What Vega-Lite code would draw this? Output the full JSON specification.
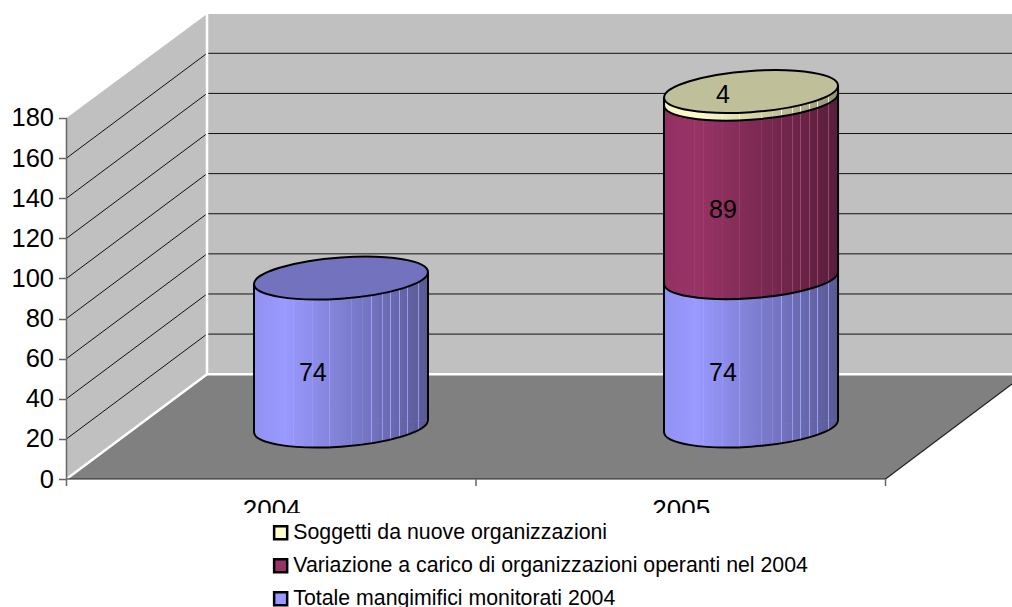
{
"$schema":"https://vega.github.io/schema/vega-lite/v6.json",
"width":1012,"height":607,"padding":0,"autosize":{"type":"none"},
"background":"white",
"config":{"view":{"stroke":null}},
"datasets":{
"planes":[
{"plane":"side","x":0,"y":0,"y2":180},{"plane":"side","x":0.3431,"y":52.25,"y2":231.85},
{"plane":"back","x":0.3431,"y":52.25,"y2":231.85},{"plane":"back","x":2.3089,"y":52.25,"y2":231.85},
{"plane":"floor","x":0,"y":0,"y2":0},{"plane":"floor","x":0.3431,"y":0,"y2":52.25},{"plane":"floor","x":2,"y":0,"y2":52.25},{"plane":"floor","x":2.3089,"y":47.4,"y2":52.25}
],
"frame":[
{"kind":"grid","x":0,"x2":0.3431,"y":20,"y2":72.25},{"kind":"grid","x":0,"x2":0.3431,"y":40,"y2":92.25},{"kind":"grid","x":0,"x2":0.3431,"y":60,"y2":112.25},{"kind":"grid","x":0,"x2":0.3431,"y":80,"y2":132.25},{"kind":"grid","x":0,"x2":0.3431,"y":100,"y2":152.25},{"kind":"grid","x":0,"x2":0.3431,"y":120,"y2":172.25},{"kind":"grid","x":0,"x2":0.3431,"y":140,"y2":192.25},{"kind":"grid","x":0,"x2":0.3431,"y":160,"y2":212.25},
{"kind":"grid","x":0.3431,"x2":2.3089,"y":72.25,"y2":72.25},{"kind":"grid","x":0.3431,"x2":2.3089,"y":92.25,"y2":92.25},{"kind":"grid","x":0.3431,"x2":2.3089,"y":112.25,"y2":112.25},{"kind":"grid","x":0.3431,"x2":2.3089,"y":132.25,"y2":132.25},{"kind":"grid","x":0.3431,"x2":2.3089,"y":152.25,"y2":152.25},{"kind":"grid","x":0.3431,"x2":2.3089,"y":172.25,"y2":172.25},{"kind":"grid","x":0.3431,"x2":2.3089,"y":192.25,"y2":192.25},{"kind":"grid","x":0.3431,"x2":2.3089,"y":212.25,"y2":212.25},
{"kind":"edge","x":0,"x2":0.3431,"y":0,"y2":52.25},{"kind":"edge","x":0.3431,"x2":0.3431,"y":52.25,"y2":231.85},{"kind":"edge","x":0.3431,"x2":2.3089,"y":52.25,"y2":52.25},
{"kind":"floorline","x":0,"x2":2,"y":0,"y2":0},{"kind":"floorline","x":2,"x2":2.3089,"y":0,"y2":47.4},
{"kind":"axis","x":0,"x2":0,"y":-3.5,"y2":180},{"kind":"axis","x":1,"x2":1,"y":-3.5,"y2":0},{"kind":"axis","x":2,"x2":2,"y":-3.5,"y2":0},
{"kind":"cyl","x":0.4578,"x2":0.4578,"y":23.4,"y2":97.4},{"kind":"cyl","x":0.8828,"x2":0.8828,"y":29.4,"y2":103.4},
{"kind":"cyl","x":1.4591,"x2":1.4591,"y":23.4,"y2":190.4},{"kind":"cyl","x":1.8841,"x2":1.8841,"y":29.4,"y2":196.4}
],
"bodies":[
{"year":"2004","series":"Totale mangimifici monitorati 2004","x":0.4578,"y":23.4,"y2":97.4},{"year":"2004","series":"Totale mangimifici monitorati 2004","x":0.8828,"y":29.4,"y2":103.4},
{"year":"2005","series":"Totale mangimifici monitorati 2004","x":1.4591,"y":23.4,"y2":97.4},{"year":"2005","series":"Totale mangimifici monitorati 2004","x":1.8841,"y":29.4,"y2":103.4},
{"year":"2005","series":"Variazione a carico di organizzazioni operanti nel 2004","x":1.4591,"y":97.4,"y2":186.4},{"year":"2005","series":"Variazione a carico di organizzazioni operanti nel 2004","x":1.8841,"y":103.4,"y2":192.4},
{"year":"2005","series":"Soggetti da nuove organizzazioni","x":1.4591,"y":186.4,"y2":190.4},{"year":"2005","series":"Soggetti da nuove organizzazioni","x":1.8841,"y":192.4,"y2":196.4}
],
"wholes":[
{"year":"2004","x":0.4578,"y":23.4,"y2":97.4},{"year":"2004","x":0.8828,"y":29.4,"y2":103.4},
{"year":"2005","x":1.4591,"y":23.4,"y2":190.4},{"year":"2005","x":1.8841,"y":29.4,"y2":196.4}
],
"rims":[
{"series":"Totale mangimifici monitorati 2004","x":0.6703,"y":26.4},{"series":"Totale mangimifici monitorati 2004","x":1.6716,"y":26.4},
{"series":"Variazione a carico di organizzazioni operanti nel 2004","x":1.6716,"y":100.4},
{"series":"Soggetti da nuove organizzazioni","x":1.6716,"y":189.4}
],
"bases":[{"x":0.6703,"y":26.4},{"x":1.6716,"y":26.4}],
"tops":[
{"series":"Totale mangimifici monitorati 2004","x":0.6703,"y":100.2},
{"series":"Soggetti da nuove organizzazioni","x":1.6716,"y":193.2}
],
"labels":[
{"value":74,"x":0.6015,"y":53.1},{"value":74,"x":1.603,"y":53.1},{"value":89,"x":1.603,"y":134.2},{"value":4,"x":1.603,"y":191.6}
],
"box":[{"x":0.4,"x2":1.8,"y":-16.95,"y2":-63.82}]
},
"encoding":{
"x":{"field":"x","type":"quantitative","scale":{"domain":[-0.1624,2.3089],"nice":false,"zero":false},"title":null,
 "axis":{"orient":"bottom","offset":-128,"values":[0.5,1.5],"labelExpr":"datum.value<1?'2004':'2005'","ticks":false,"domain":false,"grid":false,"labelFont":"Liberation Sans","labelFontSize":26,"labelColor":"black","labelPadding":17,"title":null,"zindex":0}},
"y":{"field":"y","type":"quantitative","scale":{"domain":[-63.82,238.83],"nice":false,"zero":false},"title":null,
 "axis":{"orient":"left","offset":-66.5,"values":[0,20,40,60,80,100,120,140,160,180],"domain":false,"grid":false,"tickSize":8,"tickColor":"#666666","tickWidth":1.5,"labelFont":"Liberation Sans","labelFontSize":25.5,"labelColor":"black","labelPadding":5,"title":null,"zindex":0}}
},
"layer":[
{"data":{"name":"planes"},"transform":[{"filter":"datum.plane==='side'"}],"mark":{"type":"area","color":"#C0C0C0","orient":"vertical"},"encoding":{"y2":{"field":"y2"}}},
{"data":{"name":"planes"},"transform":[{"filter":"datum.plane==='back'"}],"mark":{"type":"area","color":"#C0C0C0","orient":"vertical"},"encoding":{"y2":{"field":"y2"}}},
{"data":{"name":"planes"},"transform":[{"filter":"datum.plane==='floor'"}],"mark":{"type":"area","color":"#808080","orient":"vertical"},"encoding":{"y2":{"field":"y2"}}},
{"data":{"name":"frame"},"transform":[{"filter":"datum.kind==='grid'"}],"mark":{"type":"rule","color":"#111111","strokeWidth":1},"encoding":{"x2":{"field":"x2"},"y2":{"field":"y2"}}},
{"data":{"name":"frame"},"transform":[{"filter":"datum.kind==='edge'"}],"mark":{"type":"rule","color":"white","strokeWidth":2.5},"encoding":{"x2":{"field":"x2"},"y2":{"field":"y2"}}},
{"data":{"name":"frame"},"transform":[{"filter":"datum.kind==='floorline'"}],"mark":{"type":"rule","color":"#222222","strokeWidth":1.2},"encoding":{"x2":{"field":"x2"},"y2":{"field":"y2"}}},
{"data":{"name":"frame"},"transform":[{"filter":"datum.kind==='axis'"}],"mark":{"type":"rule","color":"#666666","strokeWidth":1.5},"encoding":{"x2":{"field":"x2"},"y2":{"field":"y2"}}},
{"data":{"name":"bodies"},"mark":{"type":"area","orient":"vertical"},"encoding":{"y2":{"field":"y2"},"detail":{"field":"year"},
 "color":{"field":"series","type":"nominal","scale":{"domain":["Soggetti da nuove organizzazioni","Variazione a carico di organizzazioni operanti nel 2004","Totale mangimifici monitorati 2004"],"range":["#FFFFCC","#993366","#9999FF"]},
 "legend":{"orient":"none","legendX":260,"legendY":512,"title":null,"padding":10,"symbolType":"square","symbolSize":170,"symbolStrokeColor":"black","symbolStrokeWidth":2.5,"symbolOpacity":1,"labelFont":"Liberation Sans","labelFontSize":21.3,"labelColor":"black","rowPadding":9,"labelOffset":2,"labelLimit":600}}}},
{"data":{"name":"rims"},"mark":{"type":"point","filled":true,"opacity":1,"strokeWidth":0,"size":30276,"shape":"M 1 -0.069 C 1 0.0619 0.5523 0.1989 0 0.237 C -0.5523 0.2751 -1 0.1999 -1 0.069 C -1 -0.0619 -0.5523 -0.1989 0 -0.237 C 0.5523 -0.2751 1 -0.1999 1 -0.069 Z"},
 "encoding":{"color":{"field":"series","type":"nominal","scale":{"domain":["Soggetti da nuove organizzazioni","Variazione a carico di organizzazioni operanti nel 2004","Totale mangimifici monitorati 2004"],"range":["#FFFFCC","#993366","#9999FF"]}}}},
{"data":{"name":"wholes"},"mark":{"type":"area","orient":"vertical","fill":{"gradient":"linear","x1":0,"y1":0,"x2":1,"y2":0,"stops":[
{"offset":0,"color":"rgba(0,0,0,0.05)"},
{"offset":0.06,"color":"rgba(0,0,0,0.033)"},{"offset":0.063,"color":"rgba(255,255,255,0.06)"},{"offset":0.066,"color":"rgba(0,0,0,0.032)"},
{"offset":0.089,"color":"rgba(0,0,0,0.025)"},{"offset":0.092,"color":"rgba(255,255,255,0.06)"},{"offset":0.095,"color":"rgba(0,0,0,0.024)"},
{"offset":0.172,"color":"rgba(0,0,0,0.002)"},{"offset":0.175,"color":"rgba(255,255,255,0.06)"},{"offset":0.178,"color":"rgba(0,0,0,0.001)"},
{"offset":0.18,"color":"rgba(0,0,0,0)"},
{"offset":0.224,"color":"rgba(0,0,0,0.023)"},{"offset":0.227,"color":"rgba(255,255,255,0.06)"},{"offset":0.23,"color":"rgba(0,0,0,0.026)"},
{"offset":0.278,"color":"rgba(0,0,0,0.05)"},{"offset":0.281,"color":"rgba(255,255,255,0.06)"},{"offset":0.284,"color":"rgba(0,0,0,0.053)"},
{"offset":0.335,"color":"rgba(0,0,0,0.079)"},{"offset":0.338,"color":"rgba(255,255,255,0.06)"},{"offset":0.341,"color":"rgba(0,0,0,0.082)"},
{"offset":0.432,"color":"rgba(0,0,0,0.129)"},{"offset":0.435,"color":"rgba(255,255,255,0.06)"},{"offset":0.438,"color":"rgba(0,0,0,0.132)"},
{"offset":0.555,"color":"rgba(0,0,0,0.192)"},{"offset":0.558,"color":"rgba(255,255,255,0.06)"},{"offset":0.561,"color":"rgba(0,0,0,0.195)"},
{"offset":0.618,"color":"rgba(0,0,0,0.224)"},{"offset":0.621,"color":"rgba(255,255,255,0.06)"},{"offset":0.624,"color":"rgba(0,0,0,0.227)"},
{"offset":0.672,"color":"rgba(0,0,0,0.252)"},{"offset":0.675,"color":"rgba(255,255,255,0.06)"},{"offset":0.678,"color":"rgba(0,0,0,0.255)"},
{"offset":0.734,"color":"rgba(0,0,0,0.284)"},{"offset":0.737,"color":"rgba(255,255,255,0.06)"},{"offset":0.74,"color":"rgba(0,0,0,0.287)"},
{"offset":0.782,"color":"rgba(0,0,0,0.308)"},{"offset":0.785,"color":"rgba(255,255,255,0.06)"},{"offset":0.788,"color":"rgba(0,0,0,0.311)"},
{"offset":0.834,"color":"rgba(0,0,0,0.335)"},{"offset":0.837,"color":"rgba(255,255,255,0.06)"},{"offset":0.84,"color":"rgba(0,0,0,0.338)"},
{"offset":0.878,"color":"rgba(0,0,0,0.358)"},{"offset":0.881,"color":"rgba(255,255,255,0.06)"},{"offset":0.884,"color":"rgba(0,0,0,0.36)"},
{"offset":0.941,"color":"rgba(0,0,0,0.39)"},{"offset":0.944,"color":"rgba(255,255,255,0.06)"},{"offset":0.947,"color":"rgba(0,0,0,0.393)"},
{"offset":1,"color":"rgba(0,0,0,0.42)"}]}},"encoding":{"y2":{"field":"y2"},"detail":{"field":"year"}}},
{"data":{"name":"bases"},"mark":{"type":"point","filled":true,"opacity":1,"strokeWidth":0,"size":30276,"fill":{"gradient":"linear","x1":0,"y1":0,"x2":1,"y2":0,"stops":[
{"offset":0,"color":"rgba(0,0,0,0.05)"},
{"offset":0.06,"color":"rgba(0,0,0,0.033)"},{"offset":0.063,"color":"rgba(255,255,255,0.06)"},{"offset":0.066,"color":"rgba(0,0,0,0.032)"},
{"offset":0.089,"color":"rgba(0,0,0,0.025)"},{"offset":0.092,"color":"rgba(255,255,255,0.06)"},{"offset":0.095,"color":"rgba(0,0,0,0.024)"},
{"offset":0.172,"color":"rgba(0,0,0,0.002)"},{"offset":0.175,"color":"rgba(255,255,255,0.06)"},{"offset":0.178,"color":"rgba(0,0,0,0.001)"},
{"offset":0.18,"color":"rgba(0,0,0,0)"},
{"offset":0.224,"color":"rgba(0,0,0,0.023)"},{"offset":0.227,"color":"rgba(255,255,255,0.06)"},{"offset":0.23,"color":"rgba(0,0,0,0.026)"},
{"offset":0.278,"color":"rgba(0,0,0,0.05)"},{"offset":0.281,"color":"rgba(255,255,255,0.06)"},{"offset":0.284,"color":"rgba(0,0,0,0.053)"},
{"offset":0.335,"color":"rgba(0,0,0,0.079)"},{"offset":0.338,"color":"rgba(255,255,255,0.06)"},{"offset":0.341,"color":"rgba(0,0,0,0.082)"},
{"offset":0.432,"color":"rgba(0,0,0,0.129)"},{"offset":0.435,"color":"rgba(255,255,255,0.06)"},{"offset":0.438,"color":"rgba(0,0,0,0.132)"},
{"offset":0.555,"color":"rgba(0,0,0,0.192)"},{"offset":0.558,"color":"rgba(255,255,255,0.06)"},{"offset":0.561,"color":"rgba(0,0,0,0.195)"},
{"offset":0.618,"color":"rgba(0,0,0,0.224)"},{"offset":0.621,"color":"rgba(255,255,255,0.06)"},{"offset":0.624,"color":"rgba(0,0,0,0.227)"},
{"offset":0.672,"color":"rgba(0,0,0,0.252)"},{"offset":0.675,"color":"rgba(255,255,255,0.06)"},{"offset":0.678,"color":"rgba(0,0,0,0.255)"},
{"offset":0.734,"color":"rgba(0,0,0,0.284)"},{"offset":0.737,"color":"rgba(255,255,255,0.06)"},{"offset":0.74,"color":"rgba(0,0,0,0.287)"},
{"offset":0.782,"color":"rgba(0,0,0,0.308)"},{"offset":0.785,"color":"rgba(255,255,255,0.06)"},{"offset":0.788,"color":"rgba(0,0,0,0.311)"},
{"offset":0.834,"color":"rgba(0,0,0,0.335)"},{"offset":0.837,"color":"rgba(255,255,255,0.06)"},{"offset":0.84,"color":"rgba(0,0,0,0.338)"},
{"offset":0.878,"color":"rgba(0,0,0,0.358)"},{"offset":0.881,"color":"rgba(255,255,255,0.06)"},{"offset":0.884,"color":"rgba(0,0,0,0.36)"},
{"offset":0.941,"color":"rgba(0,0,0,0.39)"},{"offset":0.944,"color":"rgba(255,255,255,0.06)"},{"offset":0.947,"color":"rgba(0,0,0,0.393)"},
{"offset":1,"color":"rgba(0,0,0,0.42)"}]},"shape":"M 1 -0.069 C 1 0.0619 0.5523 0.1989 0 0.237 C -0.5523 0.2751 -1 0.1999 -1 0.069 Z"}},
{"data":{"name":"rims"},"mark":{"type":"point","filled":false,"opacity":1,"color":"black","strokeWidth":2,"size":30276,"shape":"M 1 -0.069 C 1 0.0619 0.5523 0.1989 0 0.237 C -0.5523 0.2751 -1 0.1999 -1 0.069"}},
{"data":{"name":"frame"},"transform":[{"filter":"datum.kind==='cyl'"}],"mark":{"type":"rule","color":"black","strokeWidth":2},"encoding":{"x2":{"field":"x2"},"y2":{"field":"y2"}}},
{"data":{"name":"tops"},"mark":{"type":"point","filled":true,"opacity":1,"strokeWidth":0,"size":30276,"shape":"M 1 -0.069 C 1 0.0619 0.5523 0.1989 0 0.237 C -0.5523 0.2751 -1 0.1999 -1 0.069 C -1 -0.0619 -0.5523 -0.1989 0 -0.237 C 0.5523 -0.2751 1 -0.1999 1 -0.069 Z"},
 "encoding":{"color":{"field":"series","type":"nominal","scale":{"domain":["Soggetti da nuove organizzazioni","Variazione a carico di organizzazioni operanti nel 2004","Totale mangimifici monitorati 2004"],"range":["#FFFFCC","#993366","#9999FF"]}}}},
{"data":{"name":"tops"},"mark":{"type":"point","filled":true,"opacity":1,"fill":"black","fillOpacity":0.25,"stroke":"black","strokeOpacity":1,"strokeWidth":2,"size":30276,"shape":"M 1 -0.069 C 1 0.0619 0.5523 0.1989 0 0.237 C -0.5523 0.2751 -1 0.1999 -1 0.069 C -1 -0.0619 -0.5523 -0.1989 0 -0.237 C 0.5523 -0.2751 1 -0.1999 1 -0.069 Z"}},
{"data":{"name":"labels"},"mark":{"type":"text","font":"Liberation Sans","fontSize":25,"color":"black","align":"center","baseline":"middle"},"encoding":{"text":{"field":"value","type":"quantitative"}}},
{"data":{"name":"box"},"mark":{"type":"rect","color":"white"},"encoding":{"x2":{"field":"x2"},"y2":{"field":"y2"}}}
]
}
